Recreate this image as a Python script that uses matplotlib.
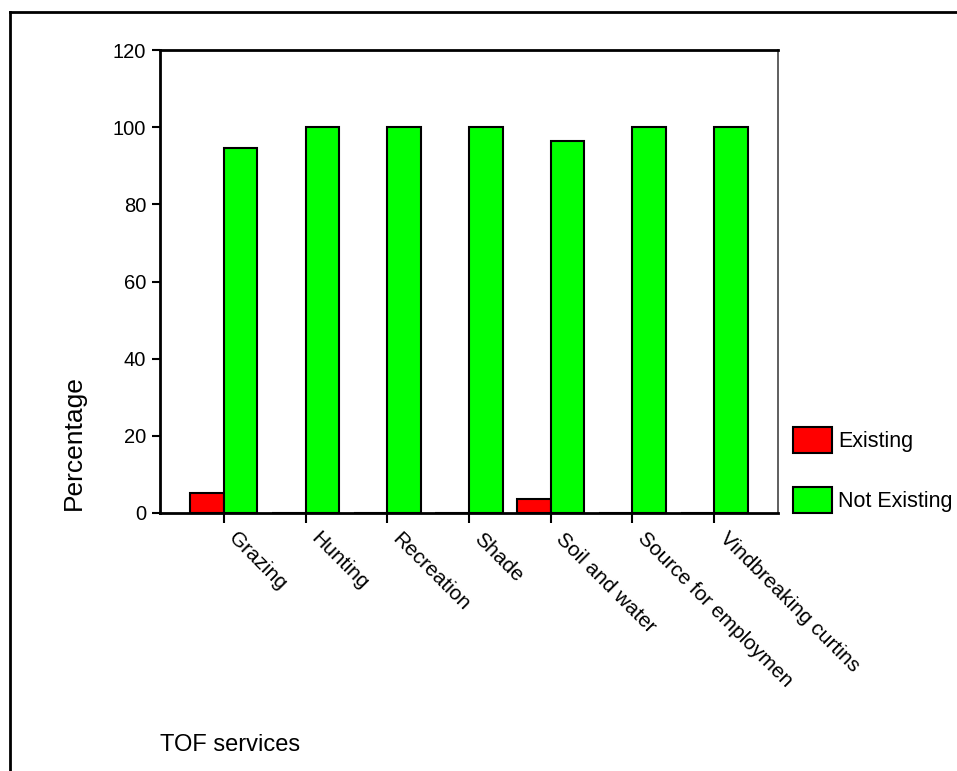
import numpy as np
import matplotlib
matplotlib.use("Agg")
import matplotlib.pyplot as plt
import matplotlib.transforms as mtransforms
from matplotlib.lines import Line2D
from matplotlib.patches import Patch

plt.rc('font', family=['Liberation Sans', 'DejaVu Sans'])

#--------------------------------------------------
# data
services = ["Grazing", "Hunting", "Recreation", "Shade",
            "Soil and water", "Source for employmen", "Vindbreaking curtins"]
existing     = [5.3, 0.0, 0.0, 0.0, 3.6, 0.0, 0.0]
not_existing = [94.7, 100.0, 100.0, 100.0, 96.4, 100.0, 100.0]
yticks = [0, 20, 40, 60, 80, 100, 120]

#--------------------------------------------------
fig = plt.figure(figsize=(9.57, 7.71), dpi=100)

W, H = 957.0, 771.0
ax = fig.add_axes([160/W, 1 - 513/H, (778 - 160)/W, (513 - 50)/H])

x = np.arange(len(services))
bw = 0.41
ax.bar(x - bw/2, existing, bw, color='#ff0000', edgecolor='black', lw=1.5, zorder=3)
ax.bar(x + bw/2, not_existing, bw, color='#00ff00', edgecolor='black', lw=1.5, zorder=3)

ax.set_xlim(-0.78, len(services) - 1 + 0.78)
ax.set_ylim(0, 120)
ax.set_yticks(yticks)
ax.set_yticklabels([str(v) for v in yticks], fontsize=14.5)
ax.set_xticks(x)
ax.set_xticklabels(services, rotation=-45, ha='left', va='top',
                   rotation_mode='anchor', fontsize=15)
ax.tick_params(axis='x', length=7, width=1.5, pad=6, direction='out')
ax.tick_params(axis='y', length=6, width=1.5, pad=4, direction='out')

# shift the rotated labels a bit to the right, like the original
offset = mtransforms.ScaledTranslation(15/100, 2/100, fig.dpi_scale_trans)
for lab in ax.get_xticklabels():
    lab.set_transform(lab.get_transform() + offset)

for s in ['left', 'bottom', 'top']:
    ax.spines[s].set_linewidth(2.0)
ax.spines['right'].set_linewidth(1.2)
ax.spines['right'].set_color('#444444')

# axis titles placed like the original
fig.text(74/W, 1 - 443/H, "Percentage", rotation=90, ha='center', va='center', fontsize=19)
fig.text(160/W, 1 - 745/H, "TOF services", ha='left', va='center', fontsize=17)

# legend
handles = [Patch(facecolor='#ff0000', edgecolor='black', lw=1.5, label='Existing'),
           Patch(facecolor='#00ff00', edgecolor='black', lw=1.5, label='Not Existing')]
fig.legend(handles=handles, loc='upper left', bbox_to_anchor=(793/W, 1 - 427/H),
           frameon=False, fontsize=15.5, handlelength=1.8, handleheight=1.5,
           labelspacing=1.55, handletextpad=0.3, borderpad=0.0, borderaxespad=0.0)

# outer frame (left and top only, as in the original)
fig.add_artist(Line2D([10/W, 10/W], [0, 1 - 12/H], transform=fig.transFigure, color='black', lw=2))
fig.add_artist(Line2D([10/W, 1], [1 - 12/H, 1 - 12/H], transform=fig.transFigure, color='black', lw=2))

plt.savefig("out.png", dpi=100)
